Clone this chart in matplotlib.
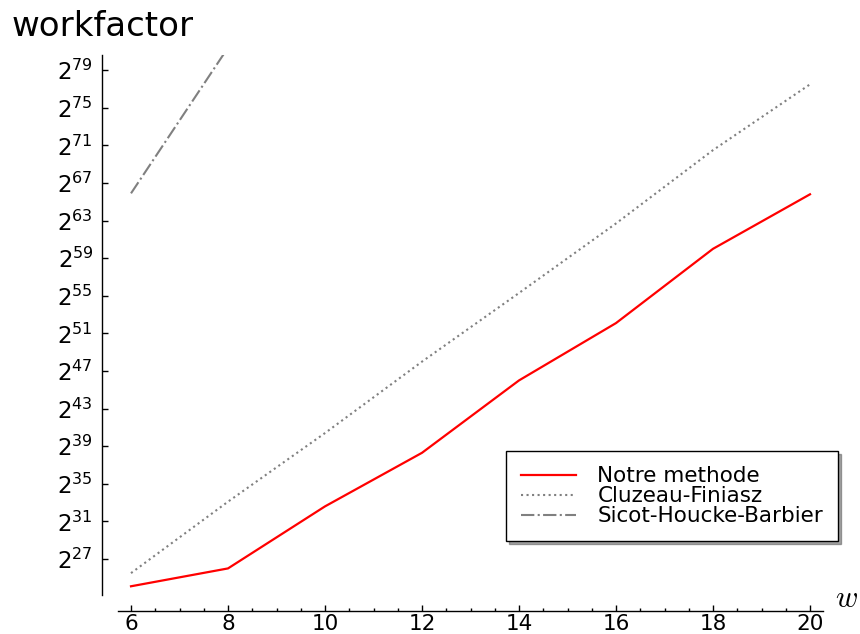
import matplotlib
matplotlib.use("Agg")
import matplotlib.pyplot as plt
from matplotlib.ticker import NullLocator, FixedLocator

# Data (exponents of 2)
w = [6, 8, 10, 12, 14, 16, 18, 20]
notre = [24.1, 26.0, 32.6, 38.3, 46.0, 52.1, 60.0, 65.8]
cluzeau = [25.5, 33.1, 40.4, 48.0, 55.3, 62.7, 70.5, 77.5]
w_shb = [6, 8]
shb = [65.9, 81.4]
ytick_exps = [27, 31, 35, 39, 43, 47, 51, 55, 59, 63, 67, 71, 75, 79]
xticks = [6, 8, 10, 12, 14, 16, 18, 20]
labels = ["Notre methode", "Cluzeau-Finiasz", "Sicot-Houcke-Barbier"]

W, H = 860, 634
fig = plt.figure(figsize=(W / 100, H / 100), dpi=100)
ax = fig.add_axes([102 / W, (H - 611) / H, (823 - 102) / W, (611 - 55) / H])

ax.plot(w, [2.0 ** e for e in notre], color="red", lw=1.6, label=labels[0])
ax.plot(w, [2.0 ** e for e in cluzeau], color="#808080", lw=1.5, ls=":", label=labels[1])
ax.plot(w_shb, [2.0 ** e for e in shb], color="#808080", lw=1.5, ls="-.", label=labels[2])

ax.set_yscale("log", base=2)
ax.set_xlim(5.402, 20.268)
ax.set_ylim(2.0 ** 21.47, 2.0 ** 80.62)

for s in ["top", "right"]:
    ax.spines[s].set_visible(False)
ax.spines["left"].set_bounds(2.0 ** 23.17, 2.0 ** 80.62)
ax.spines["bottom"].set_bounds(5.73, 20.268)
for s in ["left", "bottom"]:
    ax.spines[s].set_linewidth(1.0)

ax.yaxis.set_major_locator(FixedLocator([2.0 ** e for e in ytick_exps]))
ax.set_yticklabels([r"$2^{%d}$" % e for e in ytick_exps])
ax.yaxis.set_minor_locator(NullLocator())
ax.set_xticks(xticks)
ax.set_xticklabels([str(x) for x in xticks])
ax.xaxis.set_minor_locator(FixedLocator([x + d for x in xticks[:-1] for d in (0.5, 1.0, 1.5)]))

ax.tick_params(axis="y", which="major", direction="in", length=4.3, width=1, labelsize=16.5, pad=6.5)
ax.tick_params(axis="x", which="major", direction="in", length=4.2, width=1, labelsize=15.5, pad=2.5)
ax.tick_params(axis="x", which="minor", direction="in", length=2.4, width=1)

fig.text(12 / W, (H - 36) / H, "workfactor", fontsize=24.5, va="baseline", ha="left")
fig.text(835 / W, (H - 607) / H, r"$w$", fontsize=22, va="baseline", ha="left", math_fontfamily="cm")

leg = ax.legend(loc="upper left", bbox_to_anchor=(506 / W, (H - 451) / H),
                bbox_transform=fig.transFigure, fontsize=15.5, frameon=True,
                fancybox=False, shadow=True, edgecolor="black", framealpha=1,
                handlelength=2.55, handletextpad=1.0, labelspacing=0.0,
                borderpad=0.7, borderaxespad=0)
leg.get_frame().set_linewidth(1.0)

fig.savefig("out.png", dpi=100)
